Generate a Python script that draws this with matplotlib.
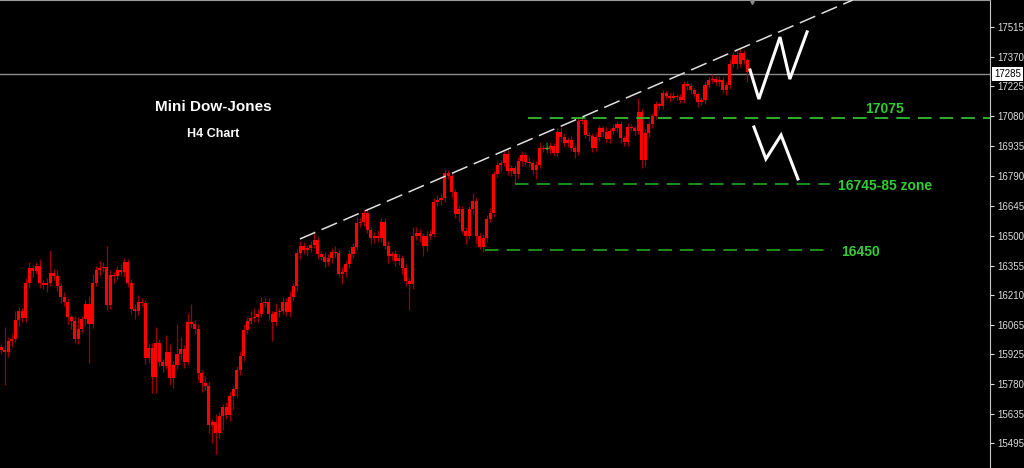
import matplotlib
matplotlib.use("Agg")
import matplotlib.pyplot as plt
import matplotlib.transforms as mtransforms
import numpy as np

# H4 closes (oldest first)
closes = [
    15945, 15936, 15989, 15999, 16091, 16135, 16101, 16271, 16344, 16329,
    16353, 16271, 16261, 16271, 16319, 16305, 16256, 16203, 16179, 16106,
    16086, 15999, 16047, 16096, 16169, 16072, 16271, 16334, 16344, 16348,
    16164, 16310, 16305, 16334, 16324, 16373, 16271, 16145, 16135, 16179,
    16174, 15907,
    15955, 15814, 15979, 15887, 15868, 15936, 15809, 15873, 15926, 15950,
    15887, 16081, 16072, 16047, 15834, 15785, 15771, 15581, 15596, 15542,
    15625, 15669, 15630, 15722, 15756, 15848, 15916, 16042, 16086, 16101,
    16106, 16120, 16174, 16179, 16120, 16081, 16130, 16135, 16179, 16130,
    16203,
    16256, 16416, 16450, 16431, 16441, 16455, 16480, 16412, 16397, 16373,
    16392, 16421, 16416, 16314, 16324, 16363, 16412, 16446, 16562, 16567,
    16611, 16528, 16489, 16499, 16489, 16567, 16450, 16402, 16412, 16378,
    16392, 16344, 16280, 16266, 16499, 16514, 16499, 16450, 16499, 16509,
    16664, 16674, 16684,
    16805, 16790, 16713, 16606, 16630, 16523, 16499, 16630, 16669, 16499,
    16446, 16489, 16582, 16611, 16800, 16844, 16853, 16897, 16815, 16829,
    16800, 16863, 16892, 16858, 16853, 16820, 16844, 16926, 16921, 16921,
    16936, 16902, 17004, 16980, 16951, 16965, 16926, 16907, 17057, 17062,
    16989,
    16985, 16926, 16980, 17023, 17004, 16970, 17009, 17023, 17043, 16975,
    16955, 17028, 17023, 17009, 17101, 16868, 16999, 17043, 17082, 17140,
    17130, 17193, 17179, 17169, 17179, 17174, 17159, 17237, 17227, 17208,
    17189, 17150, 17159, 17232, 17257, 17261, 17247, 17257, 17208, 17232,
    17334, 17378, 17334, 17388, 17354, 17295,
]
first_open = 15960

# wick lengths above / below the body, in points
wick_up = [
    15, 110, 20, 25, 45, 20, 15, 25, 30, 15, 20, 35, 15, 25, 110, 20, 30, 15, 25, 20,
    10, 25, 60, 15, 20, 40, 45, 20, 35, 25, 100, 25, 15, 20, 30, 20, 15, 20, 25, 35,
    20, 15,
    20, 25, 80, 20, 15, 80, 40, 20, 145, 60, 20, 45, 87, 20, 25, 15, 35, 20, 15, 40,
    20, 15, 25, 20, 15, 20, 25, 30, 20, 35, 45, 25, 30, 25, 20, 15, 45, 15, 25, 20,
    30,
    15, 20, 25, 20, 15, 20, 45, 20, 15, 25, 20, 20, 30, 20, 25, 15, 20, 20, 30, 20,
    20, 25, 15, 20, 30, 20, 20, 25, 15, 20, 20, 15, 20, 15, 45, 30, 20, 15, 25, 20,
    20, 25, 20,
    20, 15, 20, 15, 20, 15, 20, 15, 40, 20, 15, 20, 20, 25, 15, 20, 15, 15, 20, 15,
    15, 20, 20, 15, 25, 15, 20, 30, 15, 15, 20, 15, 20, 25, 20, 15, 20, 15, 15, 15,
    20,
    15, 15, 20, 15, 10, 25, 15, 20, 15, 15, 10, 20, 15, 10, 68, 15, 20, 15, 15, 15,
    10, 15, 10, 15, 20, 10, 15, 15, 15, 15, 10, 10, 15, 20, 15, 25, 15, 20, 15, 15,
    25, 15, 20, 30, 15, 10,
]
wick_down = [
    20, 160, 25, 30, 15, 30, 20, 20, 25, 30, 15, 25, 20, 35, 15, 20, 25, 30, 20, 35,
    40, 20, 25, 20, 30, 190, 20, 15, 30, 20, 25, 20, 35, 20, 15, 25, 20, 25, 40, 20,
    15, 30,
    25, 80, 80, 20, 30, 15, 35, 50, 20, 25, 30, 15, 20, 25, 40, 45, 20, 40, 90, 100,
    25, 70, 20, 30, 65, 40, 25, 25, 20, 15, 20, 25, 15, 20, 30, 93, 20, 25, 15, 20,
    25,
    20, 25, 30, 20, 25, 20, 15, 25, 15, 25, 20, 25, 20, 15, 50, 25, 20, 20, 15, 20,
    20, 15, 30, 25, 20, 20, 15, 35, 20, 25, 20, 30, 25, 125, 25, 20, 30, 50, 25, 20,
    15, 20, 25,
    20, 15, 30, 20, 40, 10, 40, 15, 25, 40, 10, 25, 20, 15, 20, 15, 30, 15, 20, 25,
    45, 20, 25, 15, 20, 20, 44, 15, 15, 20, 25, 15, 20, 20, 15, 20, 15, 30, 15, 15,
    15,
    25, 20, 15, 20, 25, 20, 20, 15, 20, 25, 20, 20, 15, 20, 15, 40, 30, 20, 20, 15,
    15, 15, 15, 20, 10, 15, 15, 15, 20, 20, 15, 25, 15, 20, 15, 15, 15, 20, 15, 25,
    20, 15, 25, 15, 20, 48,
]

price_ticks = [17515, 17370, 17225, 17080, 16935, 16790, 16645, 16500,
               16355, 16210, 16065, 15925, 15780, 15635, 15495]
last_price = 17285

# support levels: (price, start bar, end bar)
levels = [(17072, 149.7, 281), (16749, 146, 235.5), (16431, 137.5, 236)]
level_labels = ["17075", "16745-85 zone", "16450"]

# trendline across the highs
trend_x = [84.9, 242.0]
trend_y = [16484, 17645]

# projected paths
up_path_x = [212.8, 215.3, 221.3, 224.1, 229.0]
up_path_y = [17305, 17164, 17465, 17261, 17490]
down_path_x = [213.9, 217.3, 221.6, 226.4]
down_path_y = [17028, 16873, 16989, 16776]

closes = np.array(closes, dtype=float)
opens = np.concatenate([[first_open], closes[:-1]])
highs = np.maximum(opens, closes) + np.array(wick_up)
lows = np.minimum(opens, closes) - np.array(wick_down)
idx = np.arange(len(closes))

fig = plt.figure(figsize=(10.24, 4.68), dpi=100, facecolor="black")
ax = fig.add_axes([0, 0, 990 / 1024, 1])
ax.set_facecolor("black")

ax.vlines(idx, lows, highs, color="#9a0000", linewidth=0.9, zorder=2)
body_bottom = np.minimum(opens, closes)
body_height = np.maximum(np.abs(closes - opens), 5)
ax.bar(idx, body_height, bottom=body_bottom, width=0.86, color="#ff0000",
       linewidth=0, zorder=3)

# current price line
ax.axhline(last_price, color="#8c8c8c", linewidth=1, zorder=1)

# support levels
for (price, x0, x1), col in zip(levels, ["#2ebf2e", "#1f9a1f", "#1f9a1f"]):
    ax.plot([x0, x1], [price, price], color=col, linewidth=1.3,
            linestyle=(0, (7.5, 4.5)), zorder=4)
ax.text(251.1, 17116, level_labels[0], color="#33cc33", fontsize=10,
        fontweight="bold", family="Liberation Sans", ha="center", va="center")
ax.text(237.8, 16742, level_labels[1], color="#33cc33", fontsize=10,
        fontweight="bold", family="Liberation Sans", ha="left", va="center")
ax.text(238.6, 16421, level_labels[2], color="#33cc33", fontsize=10,
        fontweight="bold", family="Liberation Sans", ha="left", va="center")

# trendline
ax.plot(trend_x, trend_y, color="#e0e0e0", linewidth=1.1,
        linestyle=(0, (11, 4.5)), zorder=4)

# projections
ax.plot(up_path_x, up_path_y, color="white", linewidth=2.2, zorder=5,
        solid_joinstyle="miter")
ax.plot(down_path_x, down_path_y, color="white", linewidth=2.2, zorder=5,
        solid_joinstyle="miter")

# small green arrow
ax.text(155.1, 16930, "\u2193", color="#22cc22", fontsize=7, ha="center",
        va="center", zorder=5)

# titles
ax.text(0.215, 0.771, "Mini Dow-Jones", transform=ax.transAxes, color="white",
        fontsize=11, fontweight="bold", family="Liberation Sans",
        ha="center", va="center")
ax.text(0.215, 0.714, "H4 Chart", transform=ax.transAxes, color="white",
        fontsize=9, fontweight="bold", family="Liberation Sans",
        ha="center", va="center")

ax.set_xlim(-1 / 3.52, 989 / 3.52)
ax.set_ylim(15372, 17645)

ax.yaxis.tick_right()
ax.set_yticks(price_ticks)
ax.set_yticklabels([str(t) for t in price_ticks])
ax.tick_params(axis="y", colors="#dcdcdc", length=3, width=0.8, pad=2,
               labelsize=7)
for lab in ax.get_yticklabels():
    lab.set_family("Liberation Sans")
ax.set_xticks([])
for side in ["left", "bottom"]:
    ax.spines[side].set_visible(False)
ax.spines["right"].set_color("#c8c8c8")
ax.spines["top"].set_color("#9a9a9a")

# last price tag
trans = mtransforms.blended_transform_factory(ax.transAxes, ax.transData)
ax.text(1.004, last_price, str(last_price), transform=trans, color="black",
        fontsize=7, family="Liberation Sans", ha="left", va="center",
        bbox=dict(boxstyle="square,pad=0.2", fc="white", ec="none"),
        clip_on=False)

# chart shift marker
ax.plot([213.4], [17645], marker="v", color="#8a8a8a", markersize=6,
        clip_on=False, zorder=6)

fig.savefig("out.png", dpi=100, facecolor="black")
